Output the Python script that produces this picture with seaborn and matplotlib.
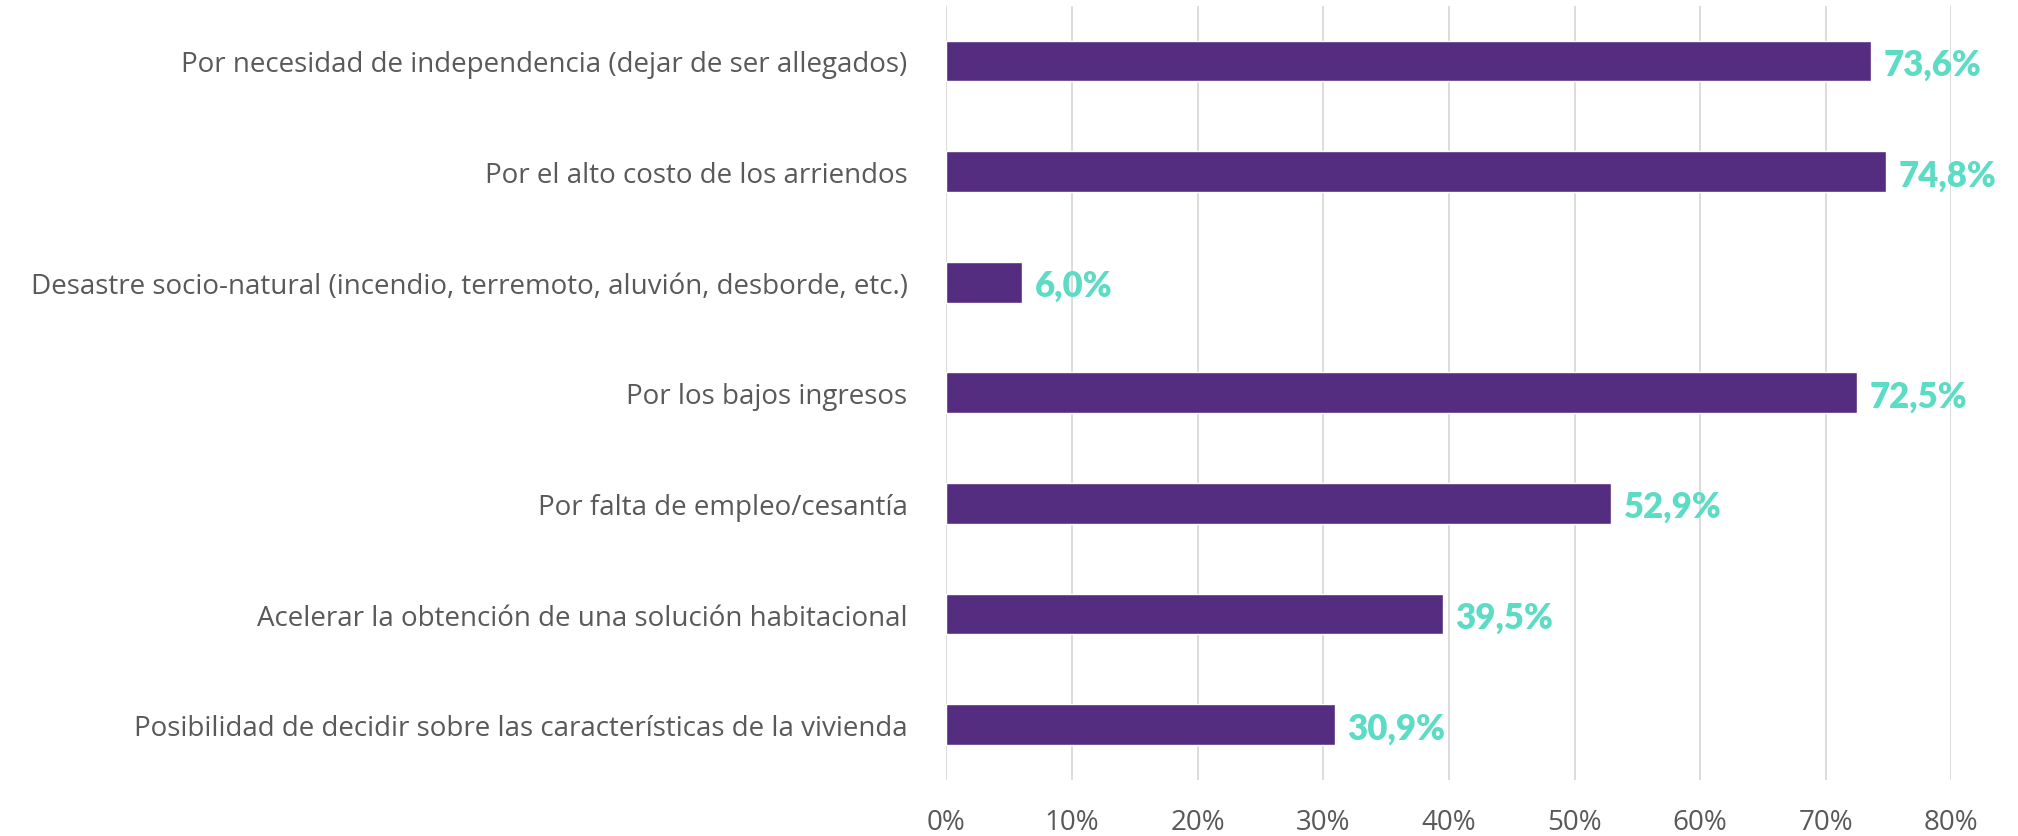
import pandas as pd
import matplotlib.pyplot as plt
import seaborn as sns

# Motivos y porcentajes
categories = [
    "Por necesidad de independencia (dejar de ser allegados)",
    "Por el alto costo de los arriendos",
    "Desastre socio-natural (incendio, terremoto, aluvión, desborde, etc.)",
    "Por los bajos ingresos",
    "Por falta de empleo/cesantía",
    "Acelerar la obtención de una solución habitacional",
    "Posibilidad de decidir sobre las características de la vivienda",
]
values = [73.6, 74.8, 6.0, 72.5, 52.9, 39.5, 30.9]
xticks = [0, 10, 20, 30, 40, 50, 60, 70, 80]

bar_color = "#552D80"
label_color = "#5CDCC4"
text_color = "#595959"

df = pd.DataFrame({"motivo": categories, "pct": values})

sns.set_theme(style="white")
plt.rcParams["font.family"] = ["Open Sans", "DejaVu Sans"]

fig = plt.figure(figsize=(20.18, 8.37), dpi=100)
ax = fig.add_axes([0.469, 0.067, 0.498, 0.925])

sns.barplot(data=df, x="pct", y="motivo", orient="h", color=bar_color,
            width=0.37, saturation=1, ax=ax)

ax.set_xlim(0, 80)
ax.set_xticks(xticks)
ax.set_xticklabels([f"{t}%" for t in xticks])
ax.xaxis.grid(True, color="#D9D9D9", linewidth=1.3)
ax.set_axisbelow(True)
sns.despine(ax=ax, left=True, bottom=True)
ax.set_xlabel("")
ax.set_ylabel("")
ax.tick_params(axis="x", colors=text_color, labelsize=20, pad=20, length=0)
ax.tick_params(axis="y", colors=text_color, labelsize=20, pad=28, length=0)

# Etiquetas de valor
for i, v in enumerate(values):
    ax.text(v + 1.0, i + 0.03, f"{v:.1f}%".replace(".", ","), va="center", ha="left",
            color=label_color, fontsize=25, fontweight="heavy",
            family=["Lato", "DejaVu Sans"], clip_on=False)

fig.savefig("out.png", dpi=100)
